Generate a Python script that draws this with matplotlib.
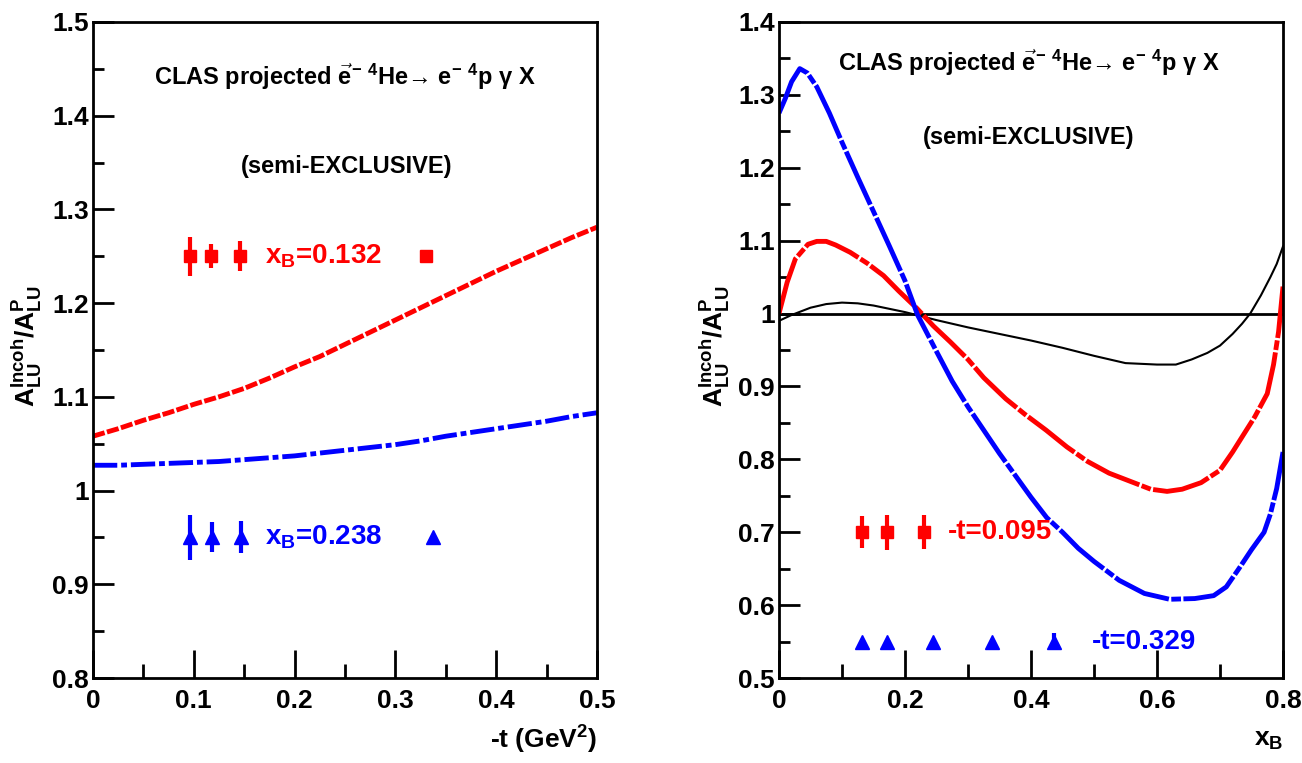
import numpy as np
import matplotlib
matplotlib.use('Agg')
import matplotlib.pyplot as plt
from matplotlib.ticker import MultipleLocator
from matplotlib import font_manager as fm

# pick a narrow Helvetica-like face if available
names = set(f.name for f in fm.fontManager.ttflist)
FONT = 'Liberation Sans Narrow' if 'Liberation Sans Narrow' in names else 'Liberation Sans'
plt.rcParams['font.family'] = [FONT, 'DejaVu Sans']
plt.rcParams['font.weight'] = 'bold'
plt.rcParams['mathtext.fontset'] = 'custom'
plt.rcParams['mathtext.rm'] = FONT + ':bold'
plt.rcParams['mathtext.it'] = FONT + ':bold'
plt.rcParams['mathtext.bf'] = FONT + ':bold'

# ---- left panel data: ratio vs -t ----
t_grid = [0, 0.025, 0.05, 0.075, 0.1, 0.125, 0.15, 0.175, 0.2, 0.225, 0.25,
          0.275, 0.3, 0.325, 0.35, 0.375, 0.4, 0.425, 0.45, 0.475, 0.5]
ratio_xb0132 = [1.058, 1.066, 1.075, 1.083, 1.092, 1.100, 1.109, 1.120, 1.132, 1.143, 1.156,
                1.169, 1.182, 1.195, 1.208, 1.221, 1.234, 1.246, 1.258, 1.270, 1.281]
ratio_xb0238 = [1.027, 1.027, 1.028, 1.029, 1.030, 1.031, 1.033, 1.035, 1.037, 1.040, 1.043,
                1.046, 1.049, 1.053, 1.058, 1.062, 1.066, 1.070, 1.074, 1.079, 1.083]

# projected points (positions in -t), with errors
t_pts_red = [0.096, 0.117, 0.146, 0.330]
y_pts_red = [1.25, 1.25, 1.25, 1.25]
e_pts_red = [0.021, 0.013, 0.016, 0.006]
t_pts_blue = [0.096, 0.118, 0.147, 0.337]
y_pts_blue = [0.95, 0.95, 0.95, 0.95]
e_pts_blue = [0.024, 0.016, 0.017, 0.0]

# ---- right panel data: ratio vs x_B ----
xb_red = [0, 0.013, 0.026, 0.046, 0.06, 0.075, 0.09, 0.113, 0.14, 0.166, 0.19, 0.219,
          0.245, 0.272, 0.3, 0.325, 0.36, 0.39, 0.424, 0.457, 0.49, 0.524, 0.557, 0.59,
          0.616, 0.64, 0.67, 0.7, 0.72, 0.736, 0.755, 0.775, 0.785, 0.793, 0.8]
ratio_t0095 = [1.0, 1.043, 1.075, 1.095, 1.099, 1.099, 1.094, 1.084, 1.069, 1.052, 1.031, 1.007,
               0.983, 0.961, 0.937, 0.912, 0.883, 0.862, 0.840, 0.817, 0.797, 0.781, 0.770, 0.759,
               0.756, 0.759, 0.768, 0.785, 0.810, 0.832, 0.858, 0.890, 0.930, 0.975, 1.037]
xb_blue = [0, 0.01, 0.02, 0.033, 0.045, 0.06, 0.08, 0.1, 0.125, 0.15, 0.175, 0.2, 0.22,
           0.25, 0.275, 0.3, 0.325, 0.35, 0.375, 0.4, 0.425, 0.45, 0.475, 0.5, 0.54, 0.58,
           0.62, 0.66, 0.69, 0.71, 0.73, 0.75, 0.77, 0.78, 0.79, 0.8]
ratio_t0329 = [1.275, 1.295, 1.318, 1.336, 1.330, 1.311, 1.275, 1.235, 1.187, 1.140, 1.093, 1.045, 0.998,
               0.948, 0.907, 0.872, 0.840, 0.808, 0.778, 0.748, 0.720, 0.700, 0.678, 0.660, 0.634, 0.616,
               0.608, 0.609, 0.613, 0.625, 0.650, 0.676, 0.700, 0.725, 0.760, 0.810]
xb_black = [0, 0.02, 0.05, 0.075, 0.1, 0.125, 0.15, 0.2, 0.25, 0.3, 0.35, 0.4, 0.45, 0.5,
            0.55, 0.6, 0.63, 0.655, 0.68, 0.7, 0.72, 0.735, 0.748, 0.765, 0.78, 0.79, 0.8]
ratio_black = [0.990, 0.998, 1.008, 1.013, 1.015, 1.014, 1.011, 1.002, 0.991, 0.981, 0.972, 0.963, 0.953, 0.942,
               0.932, 0.930, 0.930, 0.937, 0.946, 0.956, 0.972, 0.986, 1.000, 1.025, 1.050, 1.068, 1.092]

xb_pts_red = [0.132, 0.172, 0.230]
y_pts_red_r = [0.70, 0.70, 0.70]
e_pts_red_r = [0.022, 0.024, 0.023]
xb_pts_blue = [0.132, 0.172, 0.244, 0.338, 0.437]
y_pts_blue_r = [0.55, 0.55, 0.55, 0.55, 0.55]
e_pts_blue_r = [0.0, 0.0, 0.0, 0.0, 0.012]

RED = '#ff0000'
BLUE = '#0000ff'

title1 = r'CLAS projected $\vec{e}^{-}\;{}^{4}$He' + '\u2192 ' + r'e$^{-}\;{}^{4}$p $\gamma$ X'
title2 = '(semi-EXCLUSIVE)'
ylab = r'A$_{LU}^{Incoh}$/A$_{LU}^{P}$'

fig = plt.figure(figsize=(13.02, 7.63), dpi=100)
ax1 = fig.add_axes([0.0714, 0.1114, 0.3871, 0.8598])
ax2 = fig.add_axes([0.5983, 0.1114, 0.3871, 0.8598])


def style(ax, xmaj, xmin, ymaj, ymin):
    ax.xaxis.set_major_locator(MultipleLocator(xmaj))
    ax.xaxis.set_minor_locator(MultipleLocator(xmin))
    ax.yaxis.set_major_locator(MultipleLocator(ymaj))
    ax.yaxis.set_minor_locator(MultipleLocator(ymin))
    ax.tick_params(axis='both', which='both', direction='in', width=2, labelsize=19,
                   top=False, right=False)
    ax.tick_params(axis='x', which='major', length=20, pad=8)
    ax.tick_params(axis='x', which='minor', length=10)
    ax.tick_params(axis='y', which='major', length=15, pad=3)
    ax.tick_params(axis='y', which='minor', length=8)
    for s in ax.spines.values():
        s.set_linewidth(2)
    ax.xaxis.set_major_formatter(plt.FuncFormatter(lambda v, p: ('%g' % round(v, 3))))
    ax.yaxis.set_major_formatter(plt.FuncFormatter(lambda v, p: ('%g' % round(v, 3))))


# left panel
ax1.plot(t_grid, ratio_xb0132, color=RED, lw=3.5, linestyle=(0, (2.5, 0.5)))
ax1.plot(t_grid, ratio_xb0238, color=BLUE, lw=3.5, linestyle=(0, (5, 0.8, 1.2, 0.8)))
ax1.errorbar(t_pts_red, y_pts_red, yerr=e_pts_red, fmt='s', color=RED, ms=8.5,
             elinewidth=3, capsize=0)
ax1.errorbar(t_pts_blue, y_pts_blue, yerr=e_pts_blue, fmt='^', color=BLUE, ms=9.5,
             elinewidth=3, capsize=0)
ax1.set_xlim(0, 0.5)
ax1.set_ylim(0.8, 1.5)
style(ax1, 0.1, 0.05, 0.1, 0.05)
ax1.text(0.25, 1.441, title1, ha='center', va='center', fontsize=17)
ax1.text(0.252, 1.346, title2, ha='center', va='center', fontsize=17)
ax1.text(0.171, 1.25, r'x$_B$=0.132', color=RED, ha='left', va='center', fontsize=20)
ax1.text(0.171, 0.95, r'x$_B$=0.238', color=BLUE, ha='left', va='center', fontsize=20)
ax1.text(-0.131, 0.505, ylab, rotation=90, ha='center', va='center', fontsize=19,
         transform=ax1.transAxes)
ax1.text(1.0, -0.095, r'-t (GeV$^{2}$)', ha='right', va='center', fontsize=19,
         transform=ax1.transAxes)

# right panel
ax2.axhline(1.0, color='black', lw=2)
ax2.plot(xb_black, ratio_black, color='black', lw=1.5)
ax2.plot(xb_red, ratio_t0095, color=RED, lw=3.5, linestyle=(0, (12, 0.5, 2, 0.5)))
ax2.plot(xb_blue, ratio_t0329, color=BLUE, lw=3.5, linestyle=(0, (12, 0.5, 2, 0.5)))
ax2.errorbar(xb_pts_red, y_pts_red_r, yerr=e_pts_red_r, fmt='s', color=RED, ms=8.5,
             elinewidth=3, capsize=0)
ax2.errorbar(xb_pts_blue, y_pts_blue_r, yerr=e_pts_blue_r, fmt='^', color=BLUE, ms=9.5,
             elinewidth=3, capsize=0)
ax2.set_xlim(0, 0.8)
ax2.set_ylim(0.5, 1.4)
style(ax2, 0.2, 0.1, 0.1, 0.05)
ax2.text(0.397, 1.344, title1, ha='center', va='center', fontsize=17)
ax2.text(0.397, 1.242, title2, ha='center', va='center', fontsize=17)
ax2.text(0.268, 0.70, '-t=0.095', color=RED, ha='left', va='center', fontsize=20)
ax2.text(0.497, 0.55, '-t=0.329', color=BLUE, ha='left', va='center', fontsize=20)
ax2.text(-0.127, 0.505, ylab, rotation=90, ha='center', va='center', fontsize=19,
         transform=ax2.transAxes)
ax2.text(1.0, -0.095, r'x$_B$', ha='right', va='center', fontsize=19,
         transform=ax2.transAxes)

fig.savefig('out.png', dpi=100)
